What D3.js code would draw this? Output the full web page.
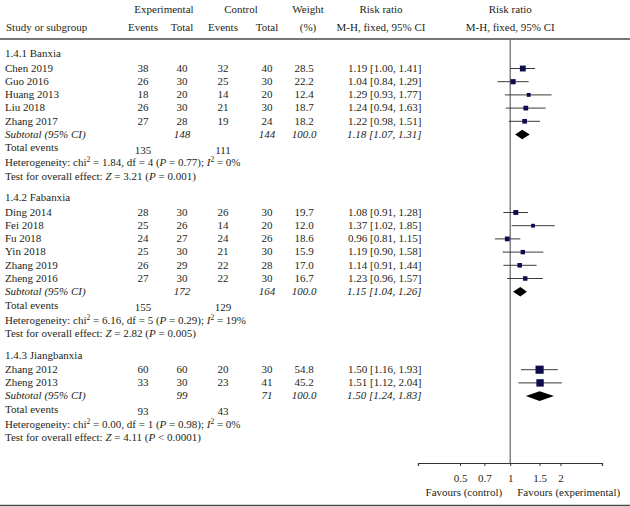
<!DOCTYPE html>
<html>
<head>
<meta charset="utf-8">
<script src="https://cdn.jsdelivr.net/npm/d3@7"></script>
<style>
  html, body { margin: 0; padding: 0; background: #fff; }
  svg text { font-family: "Liberation Serif", "DejaVu Serif", serif; font-size: 11px; fill: #231f20; }
</style>
</head>
<body>
<svg id="chart" width="630" height="507"></svg>
<script>
// ---------- DATA ----------
const groupLabels = ["1.4.1 Banxia", "1.4.2 Fabanxia", "1.4.3 Jiangbanxia"];

const studyNames  = ["Chen 2019","Guo 2016","Huang 2013","Liu 2018","Zhang 2017",
                     "Ding 2014","Fei 2018","Fu 2018","Yin 2018","Zhang 2019","Zheng 2016",
                     "Zhang 2012","Zheng 2013"];
const studyGroup  = [0,0,0,0,0, 1,1,1,1,1,1, 2,2];
const expEvents   = [38,26,18,26,27, 28,25,24,25,26,27, 60,33];
const expTotal    = [40,30,20,30,28, 30,26,27,30,29,30, 60,30];
const ctrlEvents  = [32,25,14,21,19, 26,14,24,21,22,22, 20,23];
const ctrlTotal   = [40,30,20,30,24, 30,20,26,30,28,30, 30,41];
const weights     = [28.5,22.2,12.4,18.7,18.2, 19.7,12.0,18.6,15.9,17.0,16.7, 54.8,45.2];
const rr          = [1.19,1.04,1.29,1.24,1.22, 1.08,1.37,0.96,1.19,1.14,1.23, 1.50,1.51];
const rrLo        = [1.00,0.84,0.93,0.94,0.98, 0.91,1.02,0.81,0.90,0.91,0.96, 1.16,1.12];
const rrHi        = [1.41,1.29,1.77,1.63,1.51, 1.28,1.85,1.15,1.58,1.44,1.57, 1.93,2.04];

const subExpTotal   = [148,172,99];
const subCtrlTotal  = [144,164,71];
const subWeight     = ["100.0","100.0","100.0"];
const subRR         = [1.18,1.15,1.50];
const subLo         = [1.07,1.04,1.24];
const subHi         = [1.31,1.26,1.83];
const totExpEvents  = [135,155,93];
const totCtrlEvents = [111,129,43];
const hetChi2       = ["1.84","6.16","0.00"];
const hetDf         = [4,5,1];
const hetP          = ["0.77","0.29","0.98"];
const hetI2         = ["0%","19%","0%"];
const zValue        = ["3.21","2.82","4.11"];
const zP            = ["= 0.001","= 0.005","< 0.0001"];

const tickValues = [0.5, 0.7, 1, 1.5, 2];
const favourLeft  = "Favours (control)";
const favourRight = "Favours (experimental)";

// ---------- LAYOUT ----------
const svg = d3.select("#chart");
const W = 630;
const col = { name: 5, expEv: 143, expTot: 182, ctrlEv: 223, ctrlTot: 267, weight: 304, ci: 348 };
const axisY = 463;
const x = d3.scaleLog().domain([0.28, 3.55]).range([418, 602]);
const sq = d3.scaleSqrt().domain([0, 100]).range([0, 11]);
const markColor = "#0c0c4e";

// compute row positions
const rows = [];
let y = 53.5;
groupLabels.forEach((g, gi) => {
  rows.push({ type: "group", g: gi, y });
  y += 14.5;
  studyNames.forEach((n, i) => {
    if (studyGroup[i] !== gi) return;
    rows.push({ type: "study", i, y });
    y += 13.2;
  });
  rows.push({ type: "subtotal", g: gi, y });
  y += 13.5;
  rows.push({ type: "total", g: gi, y });
  y += 15;
  rows.push({ type: "het", g: gi, y });
  y += 13.5;
  rows.push({ type: "test", g: gi, y });
  y += 21.5;
});

function txt(xp, yp, s, anchor, italic) {
  return svg.append("text").attr("x", xp).attr("y", yp).attr("dy", "0.35em")
    .attr("text-anchor", anchor || "start")
    .style("font-style", italic ? "italic" : null)
    .text(s);
}
function rich(xp, yp, segs) {
  const t = svg.append("text").attr("x", xp).attr("y", yp).attr("dy", "0.35em");
  segs.forEach(s => {
    const ts = t.append("tspan").text(s.t);
    if (s.i) ts.style("font-style", "italic");
    if (s.sup) ts.attr("baseline-shift", "super").style("font-size", "7.5px");
  });
  return t;
}

// ---------- HEADER ----------
txt(164, 9, "Experimental", "middle");
txt(241, 9, "Control", "middle");
txt(308, 9, "Weight", "middle");
txt(381, 9, "Risk ratio", "middle");
txt(x(1), 9, "Risk ratio", "middle");
txt(col.name + 1, 27, "Study or subgroup");
txt(col.expEv, 27, "Events", "middle");
txt(col.expTot, 27, "Total", "middle");
txt(col.ctrlEv, 27, "Events", "middle");
txt(col.ctrlTot, 27, "Total", "middle");
txt(308, 27, "(%)", "middle");
txt(381, 27, "M-H, fixed, 95% CI", "middle");
txt(x(1), 27, "M-H, fixed, 95% CI", "middle");

svg.append("line").attr("x1", 0).attr("x2", W).attr("y1", 39).attr("y2", 39)
  .attr("stroke", "#4a4a4a").attr("stroke-width", 1.4);
svg.append("line").attr("x1", 0).attr("x2", W).attr("y1", 505.5).attr("y2", 505.5)
  .attr("stroke", "#4a4a4a").attr("stroke-width", 1.4);

// null line
svg.append("line").attr("x1", x(1)).attr("x2", x(1)).attr("y1", 39).attr("y2", axisY)
  .attr("stroke", "#707070").attr("stroke-width", 1.3);

// ---------- ROWS ----------
const fmt2 = d3.format(".2f");
rows.forEach(r => {
  if (r.type === "group") {
    txt(col.name, r.y, groupLabels[r.g]);
  } else if (r.type === "study") {
    const i = r.i;
    txt(col.name, r.y, studyNames[i]);
    txt(col.expEv, r.y, expEvents[i], "middle");
    txt(col.expTot, r.y, expTotal[i], "middle");
    txt(col.ctrlEv, r.y, ctrlEvents[i], "middle");
    txt(col.ctrlTot, r.y, ctrlTotal[i], "middle");
    txt(col.weight, r.y, weights[i].toFixed(1), "middle");
    txt(col.ci, r.y, `${fmt2(rr[i])} [${fmt2(rrLo[i])}, ${fmt2(rrHi[i])}]`);
    svg.append("line").attr("x1", x(rrLo[i])).attr("x2", x(rrHi[i]))
      .attr("y1", r.y + 0.5).attr("y2", r.y + 0.5)
      .attr("stroke", "#3a3a3a").attr("stroke-width", 1);
    const s = sq(weights[i]);
    svg.append("rect").attr("x", x(rr[i]) - s / 2).attr("y", r.y + 0.5 - s / 2)
      .attr("width", s).attr("height", s).attr("fill", markColor);
  } else if (r.type === "subtotal") {
    const g = r.g;
    txt(col.name, r.y, "Subtotal (95% CI)", "start", true);
    txt(col.expTot, r.y, subExpTotal[g], "middle", true);
    txt(col.ctrlTot, r.y, subCtrlTotal[g], "middle", true);
    txt(col.weight, r.y, subWeight[g], "middle", true);
    txt(col.ci - 1, r.y, `${fmt2(subRR[g])} [${fmt2(subLo[g])}, ${fmt2(subHi[g])}]`, "start", true);
    const cy = r.y + 0.5, h = 4.8;
    svg.append("path")
      .attr("d", `M${x(subLo[g])},${cy} L${x(subRR[g])},${cy - h} L${x(subHi[g])},${cy} L${x(subRR[g])},${cy + h} Z`)
      .attr("fill", "#000");
  } else if (r.type === "total") {
    const g = r.g;
    txt(col.name, r.y, "Total events");
    txt(col.expEv, r.y + 2.5, totExpEvents[g], "middle");
    txt(col.ctrlEv, r.y + 2.5, totCtrlEvents[g], "middle");
  } else if (r.type === "het") {
    const g = r.g;
    rich(col.name, r.y, [
      { t: "Heterogeneity: chi" }, { t: "2", sup: true },
      { t: ` = ${hetChi2[g]}, df = ${hetDf[g]} (` }, { t: "P", i: true },
      { t: ` = ${hetP[g]}); ` }, { t: "I", i: true }, { t: "2", sup: true },
      { t: ` = ${hetI2[g]}` }
    ]);
  } else if (r.type === "test") {
    const g = r.g;
    rich(col.name, r.y, [
      { t: "Test for overall effect: " }, { t: "Z", i: true },
      { t: ` = ${zValue[g]} (` }, { t: "P", i: true }, { t: ` ${zP[g]})` }
    ]);
  }
});

// ---------- AXIS ----------
const axis = d3.axisBottom(x).tickValues(tickValues).tickSize(3).tickPadding(8)
  .tickFormat(d3.format("~g"));
const ag = svg.append("g").attr("transform", `translate(0,${axisY})`).call(axis);
ag.select(".domain").attr("stroke", "#333").attr("stroke-width", 1.2);
ag.selectAll(".tick line").attr("stroke", "#333");
ag.selectAll(".tick text").style("font-family", "Liberation Serif, DejaVu Serif, serif")
  .style("font-size", "11px").attr("fill", "#231f20");

txt(x(1) - 8, 492, favourLeft, "end");
txt(x(1) + 7, 492, favourRight, "start");
</script>
</body>
</html>
